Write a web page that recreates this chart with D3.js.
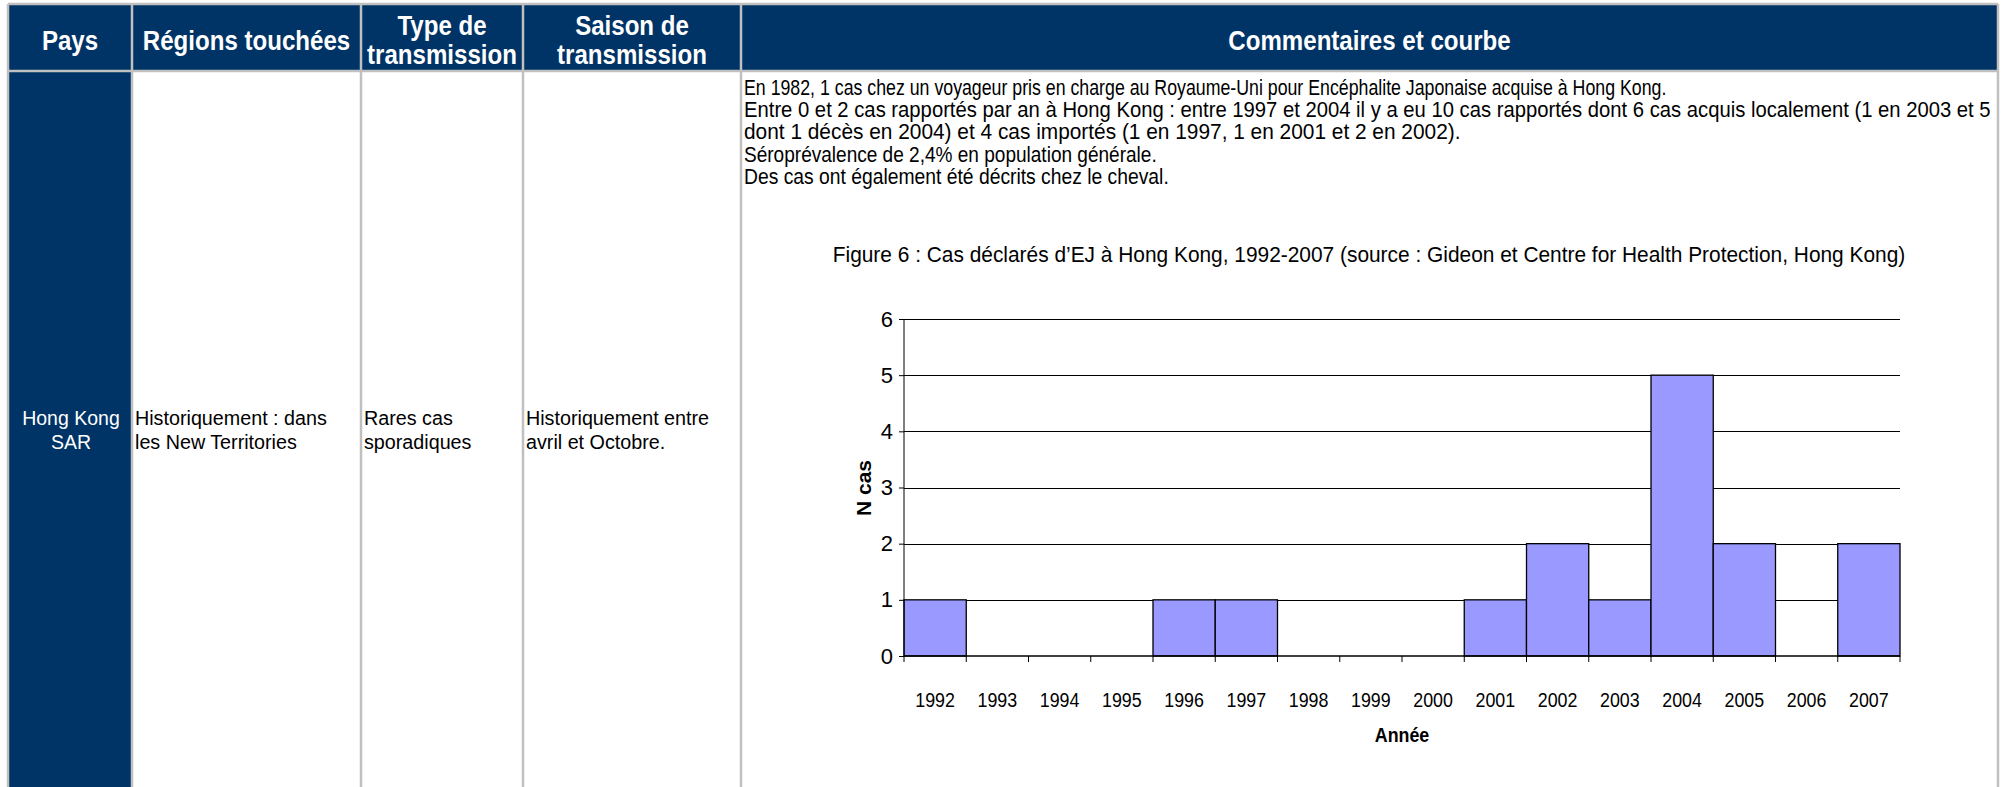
<!DOCTYPE html>
<html>
<head>
<meta charset="utf-8">
<script src="https://cdn.jsdelivr.net/npm/d3@7"></script>
<style>
  body { margin: 0; background: #fff; }
  svg { display: block; }
</style>
</head>
<body>
<svg id="chart" width="2004" height="787"></svg>
<script>
// table content
const headers = [
  ["Pays"],
  ["Régions touchées"],
  ["Type de", "transmission"],
  ["Saison de", "transmission"],
  ["Commentaires et courbe"]
];
const pays = ["Hong Kong", "SAR"];
const regions = ["Historiquement : dans", "les New Territories"];
const typeTrans = ["Rares cas", "sporadiques"];
const saison = ["Historiquement entre", "avril et Octobre."];
const commentLines = [
  "En 1982, 1 cas chez un voyageur pris en charge au Royaume-Uni pour Encéphalite Japonaise acquise à Hong Kong.",
  "Entre 0 et 2 cas rapportés par an à Hong Kong : entre 1997 et 2004 il y a eu 10 cas rapportés dont 6 cas acquis localement (1 en 2003 et 5",
  "dont 1 décès en 2004) et 4 cas importés (1 en 1997, 1 en 2001 et 2 en 2002).",
  "Séroprévalence de 2,4% en population générale.",
  "Des cas ont également été décrits chez le cheval."
];
const commentWidths = [923, 1247, 717, 413, 425];

// chart data
const figTitle = "Figure 6 : Cas déclarés d’EJ à Hong Kong, 1992-2007 (source : Gideon et Centre for Health Protection, Hong Kong)";
const years = ["1992","1993","1994","1995","1996","1997","1998","1999","2000","2001","2002","2003","2004","2005","2006","2007"];
const cases = [1, 0, 0, 0, 1, 1, 0, 0, 0, 1, 2, 1, 5, 2, 0, 2];
const yTicks = [0, 1, 2, 3, 4, 5, 6];

const navy = "#003366";
const borderCol = "#c0c0c0";
const font = "'Liberation Sans', Arial, sans-serif";
const svg = d3.select("#chart");

// text helper: sx squeezes glyphs horizontally to mimic the narrow fonts
function addText(parent, o) {
  const t = parent.append("text")
    .attr("dy", "0.35em")
    .attr("text-anchor", o.anchor || "start")
    .attr("font-family", font)
    .attr("font-weight", o.weight || "normal")
    .attr("font-size", o.size)
    .attr("fill", o.fill || "#000")
    .text(o.text);
  let sx = o.sx || 1;
  if (o.width) sx = o.width / t.node().getComputedTextLength();
  t.attr("transform", `translate(${o.x},${o.y}) scale(${sx},1)`);
  return t;
}

// layout of the table
const colX = [8, 132, 361, 523, 741, 1998];
const tableTop = 4, headBottom = 71, tableBottom = 800;

svg.append("rect")
  .attr("x", colX[0]).attr("y", tableTop)
  .attr("width", colX[5] - colX[0]).attr("height", headBottom - tableTop)
  .attr("fill", navy);

svg.append("rect")
  .attr("x", colX[0]).attr("y", headBottom)
  .attr("width", colX[1] - colX[0]).attr("height", tableBottom - headBottom)
  .attr("fill", navy);

const borders = svg.append("g").attr("stroke", borderCol).attr("stroke-width", 2.5).attr("fill", "none");
borders.append("line").attr("x1", colX[0]).attr("x2", colX[5]).attr("y1", tableTop).attr("y2", tableTop);
borders.append("line").attr("x1", colX[0]).attr("x2", colX[5]).attr("y1", headBottom).attr("y2", headBottom);
colX.forEach(x => {
  borders.append("line").attr("x1", x).attr("x2", x).attr("y1", tableTop).attr("y2", tableBottom);
});

// header text
headers.forEach((lines, i) => {
  const cx = (colX[i] + colX[i + 1]) / 2;
  const mid = (tableTop + headBottom) / 2 + 2.5;
  lines.forEach((t, j) => {
    addText(svg, {
      x: cx, y: mid + (j - (lines.length - 1) / 2) * 29,
      anchor: "middle", fill: "#fff", weight: "bold", size: 28, sx: 0.86, text: t
    });
  });
});

// body cells
pays.forEach((t, j) => {
  addText(svg, { x: (colX[0] + colX[1]) / 2 + 1, y: 418 + j * 24, anchor: "middle", fill: "#fff", size: 21, sx: 0.93, text: t });
});
[[regions, 1], [typeTrans, 2], [saison, 3]].forEach(([lines, c]) => {
  lines.forEach((t, j) => {
    addText(svg, { x: colX[c] + 3, y: 418 + j * 24, size: 21, sx: 0.94, text: t });
  });
});
commentLines.forEach((t, j) => {
  addText(svg, { x: colX[4] + 3, y: 87 + j * 22.4, size: 21.5, width: commentWidths[j], text: t });
});

// chart
const plotL = 904, plotR = 1900, plotT = 319, plotB = 656;
const g = svg.append("g");

const x = d3.scaleBand().domain(years).range([plotL, plotR]).padding(0);
const y = d3.scaleLinear().domain([0, 6]).range([plotB, plotT]);

addText(g, { x: 1369, y: 254, anchor: "middle", size: 22, sx: 0.95, text: figTitle });

// horizontal gridlines
g.append("g")
  .selectAll("line")
  .data(yTicks.filter(d => d > 0))
  .join("line")
  .attr("x1", plotL).attr("x2", plotR)
  .attr("y1", d => Math.round(y(d)) + 0.5).attr("y2", d => Math.round(y(d)) + 0.5)
  .attr("stroke", "#000").attr("stroke-width", 1);

// bars
g.append("g")
  .selectAll("rect")
  .data(years.map((yr, i) => ({ yr, v: cases[i] })).filter(d => d.v > 0))
  .join("rect")
  .attr("x", d => x(d.yr))
  .attr("y", d => y(d.v))
  .attr("width", x.bandwidth())
  .attr("height", d => y(0) - y(d.v))
  .attr("fill", "#9999ff")
  .attr("stroke", "#000")
  .attr("stroke-width", 1.3);

// y axis
const yAxis = d3.axisLeft(y).tickValues(yTicks).tickSize(5).tickPadding(6).tickFormat(d3.format("d"));
const ya = g.append("g").attr("transform", `translate(${plotL},0)`).call(yAxis);
ya.select(".domain").attr("d", `M0,${plotT}V${plotB}`).attr("stroke", "#000");
ya.selectAll("text")
  .attr("font-family", font)
  .attr("font-size", 22)
  .attr("fill", "#000");

// x axis, ticks on category boundaries
const xa = g.append("g").attr("transform", `translate(0,${plotB})`);
xa.append("line").attr("x1", plotL).attr("x2", plotR).attr("stroke", "#000").attr("stroke-width", 1.3);
xa.selectAll("line.tick")
  .data(years.concat(["end"]))
  .join("line")
  .attr("class", "tick")
  .attr("x1", (d, i) => i < years.length ? x(d) : plotR)
  .attr("x2", (d, i) => i < years.length ? x(d) : plotR)
  .attr("y1", 0).attr("y2", 6)
  .attr("stroke", "#000");
years.forEach(d => {
  addText(xa, { x: x(d) + x.bandwidth() / 2, y: 44, anchor: "middle", size: 21, sx: 0.85, text: d });
});

// axis titles
addText(g, { x: (plotL + plotR) / 2, y: 735, anchor: "middle", weight: "bold", size: 21, sx: 0.85, text: "Année" });

g.append("text")
  .attr("transform", `translate(864,488) rotate(-90)`)
  .attr("dy", "0.35em")
  .attr("text-anchor", "middle")
  .attr("font-family", font)
  .attr("font-weight", "bold")
  .attr("font-size", 21)
  .attr("fill", "#000")
  .text("N cas");
</script>
</body>
</html>
